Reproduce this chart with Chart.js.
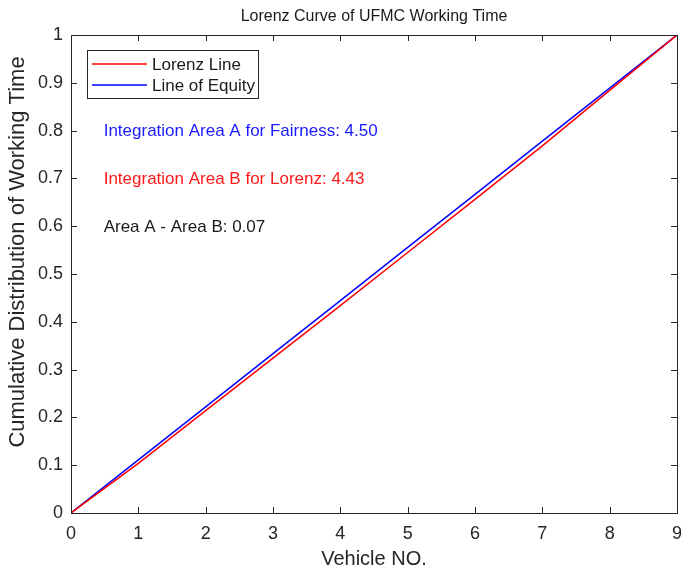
<!DOCTYPE html>
<html>
<head>
<meta charset="utf-8">
<script src="https://cdn.jsdelivr.net/npm/chart.js@4"></script>
<style>
html,body{margin:0;padding:0;background:#fff;}
#wrap{width:685px;height:573px;}
</style>
</head>
<body>
<div id="wrap"><canvas id="c" width="685" height="573"></canvas></div>
<script>
const vehicles = [0, 1, 2, 3, 4, 5, 6, 7, 8, 9];
const lorenzValues = [0, 0.104, 0.214, 0.324, 0.434, 0.545, 0.656, 0.768, 0.884, 1];
const equityValues = [0, 0.1111, 0.2222, 0.3333, 0.4444, 0.5556, 0.6667, 0.7778, 0.8889, 1];
const xTicks = [0, 1, 2, 3, 4, 5, 6, 7, 8, 9];
const yTicks = [0, 0.1, 0.2, 0.3, 0.4, 0.5, 0.6, 0.7, 0.8, 0.9, 1];
const seriesNames = ['Lorenz Line', 'Line of Equity'];
const chartTitle = 'Lorenz Curve of UFMC Working Time';
const xTitle = 'Vehicle NO.';
const yTitle = 'Cumulative Distribution of Working Time';
const annotations = [
  {x: 0.5, y: 0.8, text: 'Integration Area A for Fairness: 4.50', color: '#1a1aff'},
  {x: 0.5, y: 0.7, text: 'Integration Area B for Lorenz: 4.43', color: '#ff1a1a'},
  {x: 0.5, y: 0.6, text: 'Area A - Area B: 0.07', color: '#1a1a1a'}
];

const FONT = '"Liberation Sans", Arial, sans-serif';

const boxPlugin = {
  id: 'boxPlugin',
  afterDatasetsDraw(chart) {
    const {ctx, chartArea: a, scales: {x, y}} = chart;
    ctx.save();
    ctx.strokeStyle = '#262626';
    ctx.lineWidth = 1;
    ctx.strokeRect(a.left + 0.5, a.top + 0.5, a.right - a.left, a.bottom - a.top);
    const tl = 6;
    ctx.beginPath();
    xTicks.forEach(v => {
      const px = Math.round(x.getPixelForValue(v)) + 0.5;
      ctx.moveTo(px, a.bottom); ctx.lineTo(px, a.bottom - tl);
      ctx.moveTo(px, a.top); ctx.lineTo(px, a.top + tl);
    });
    yTicks.forEach(v => {
      const py = Math.round(y.getPixelForValue(v)) + 0.5;
      ctx.moveTo(a.left, py); ctx.lineTo(a.left + tl, py);
      ctx.moveTo(a.right, py); ctx.lineTo(a.right - tl, py);
    });
    ctx.stroke();
    ctx.font = '17px ' + FONT;
    ctx.textBaseline = 'middle';
    ctx.textAlign = 'left';
    annotations.forEach(t => {
      ctx.fillStyle = t.color;
      ctx.fillText(t.text, x.getPixelForValue(t.x) - 1, y.getPixelForValue(t.y) + 1);
    });
    const lx = a.left + 16, ly = a.top + 15, lw = 171, lh = 48;
    ctx.fillStyle = '#fff';
    ctx.fillRect(lx, ly, lw, lh);
    ctx.strokeStyle = '#262626';
    ctx.lineWidth = 1;
    ctx.strokeRect(lx + 0.5, ly + 0.5, lw, lh);
    chart.data.datasets.forEach((ds, i) => {
      const yy = ly + 14 + i * 21;
      ctx.strokeStyle = ds.borderColor;
      ctx.lineWidth = 1.5;
      ctx.beginPath();
      ctx.moveTo(lx + 5, yy); ctx.lineTo(lx + 60, yy);
      ctx.stroke();
      ctx.fillStyle = '#1a1a1a';
      ctx.font = '17px ' + FONT;
      ctx.fillText(ds.label, lx + 65, yy + 1);
    });
    // chart title
    ctx.fillStyle = '#1a1a1a';
    ctx.font = '16px ' + FONT;
    ctx.textAlign = 'center';
    ctx.fillText(chartTitle, (a.left + a.right) / 2, 17);
    // y-axis title
    ctx.save();
    ctx.translate(18, 252);
    ctx.rotate(-Math.PI / 2);
    ctx.fillStyle = '#262626';
    ctx.font = '22px ' + FONT;
    ctx.fillText(yTitle, 0, 0);
    ctx.restore();
    ctx.restore();
  }
};

new Chart(document.getElementById('c'), {
  type: 'line',
  data: {
    datasets: [
      {label: seriesNames[0], data: vehicles.map((v, i) => ({x: v, y: lorenzValues[i]})), borderColor: '#ff0000', borderWidth: 1.5, pointRadius: 0, fill: false, tension: 0},
      {label: seriesNames[1], data: vehicles.map((v, i) => ({x: v, y: equityValues[i]})), borderColor: '#0000ff', borderWidth: 1.5, pointRadius: 0, fill: false, tension: 0}
    ]
  },
  options: {
    responsive: false,
    animation: false,
    devicePixelRatio: 1,
    layout: {padding: {top: 35, right: 8, left: 0, bottom: 0}},
    plugins: {legend: {display: false}, title: {display: false}, tooltip: {enabled: false}},
    scales: {
      x: {
        type: 'linear', min: 0, max: 9,
        afterBuildTicks: s => { s.ticks = xTicks.map(v => ({value: v})); },
        afterFit: s => { s.height = 60; s.paddingLeft = 0; s.paddingRight = 0; },
        grid: {display: false, drawTicks: false},
        border: {display: false},
        ticks: {color: '#262626', font: {family: FONT, size: 18}, padding: 10, maxRotation: 0,
          callback: v => String(v)},
        title: {display: true, text: xTitle, color: '#262626', font: {family: FONT, size: 20}, padding: {top: 0, bottom: 2}}
      },
      y: {
        type: 'linear', min: 0, max: 1,
        afterBuildTicks: s => { s.ticks = yTicks.map(v => ({value: v})); },
        afterFit: s => { s.width = 71; s.paddingTop = 0; s.paddingBottom = 0; },
        grid: {display: false, drawTicks: false},
        border: {display: false},
        ticks: {color: '#262626', font: {family: FONT, size: 18}, padding: 8,
          callback: v => String(Math.round(v * 10) / 10)},
        title: {display: false}
      }
    }
  },
  plugins: [boxPlugin]
});
</script>
</body>
</html>
